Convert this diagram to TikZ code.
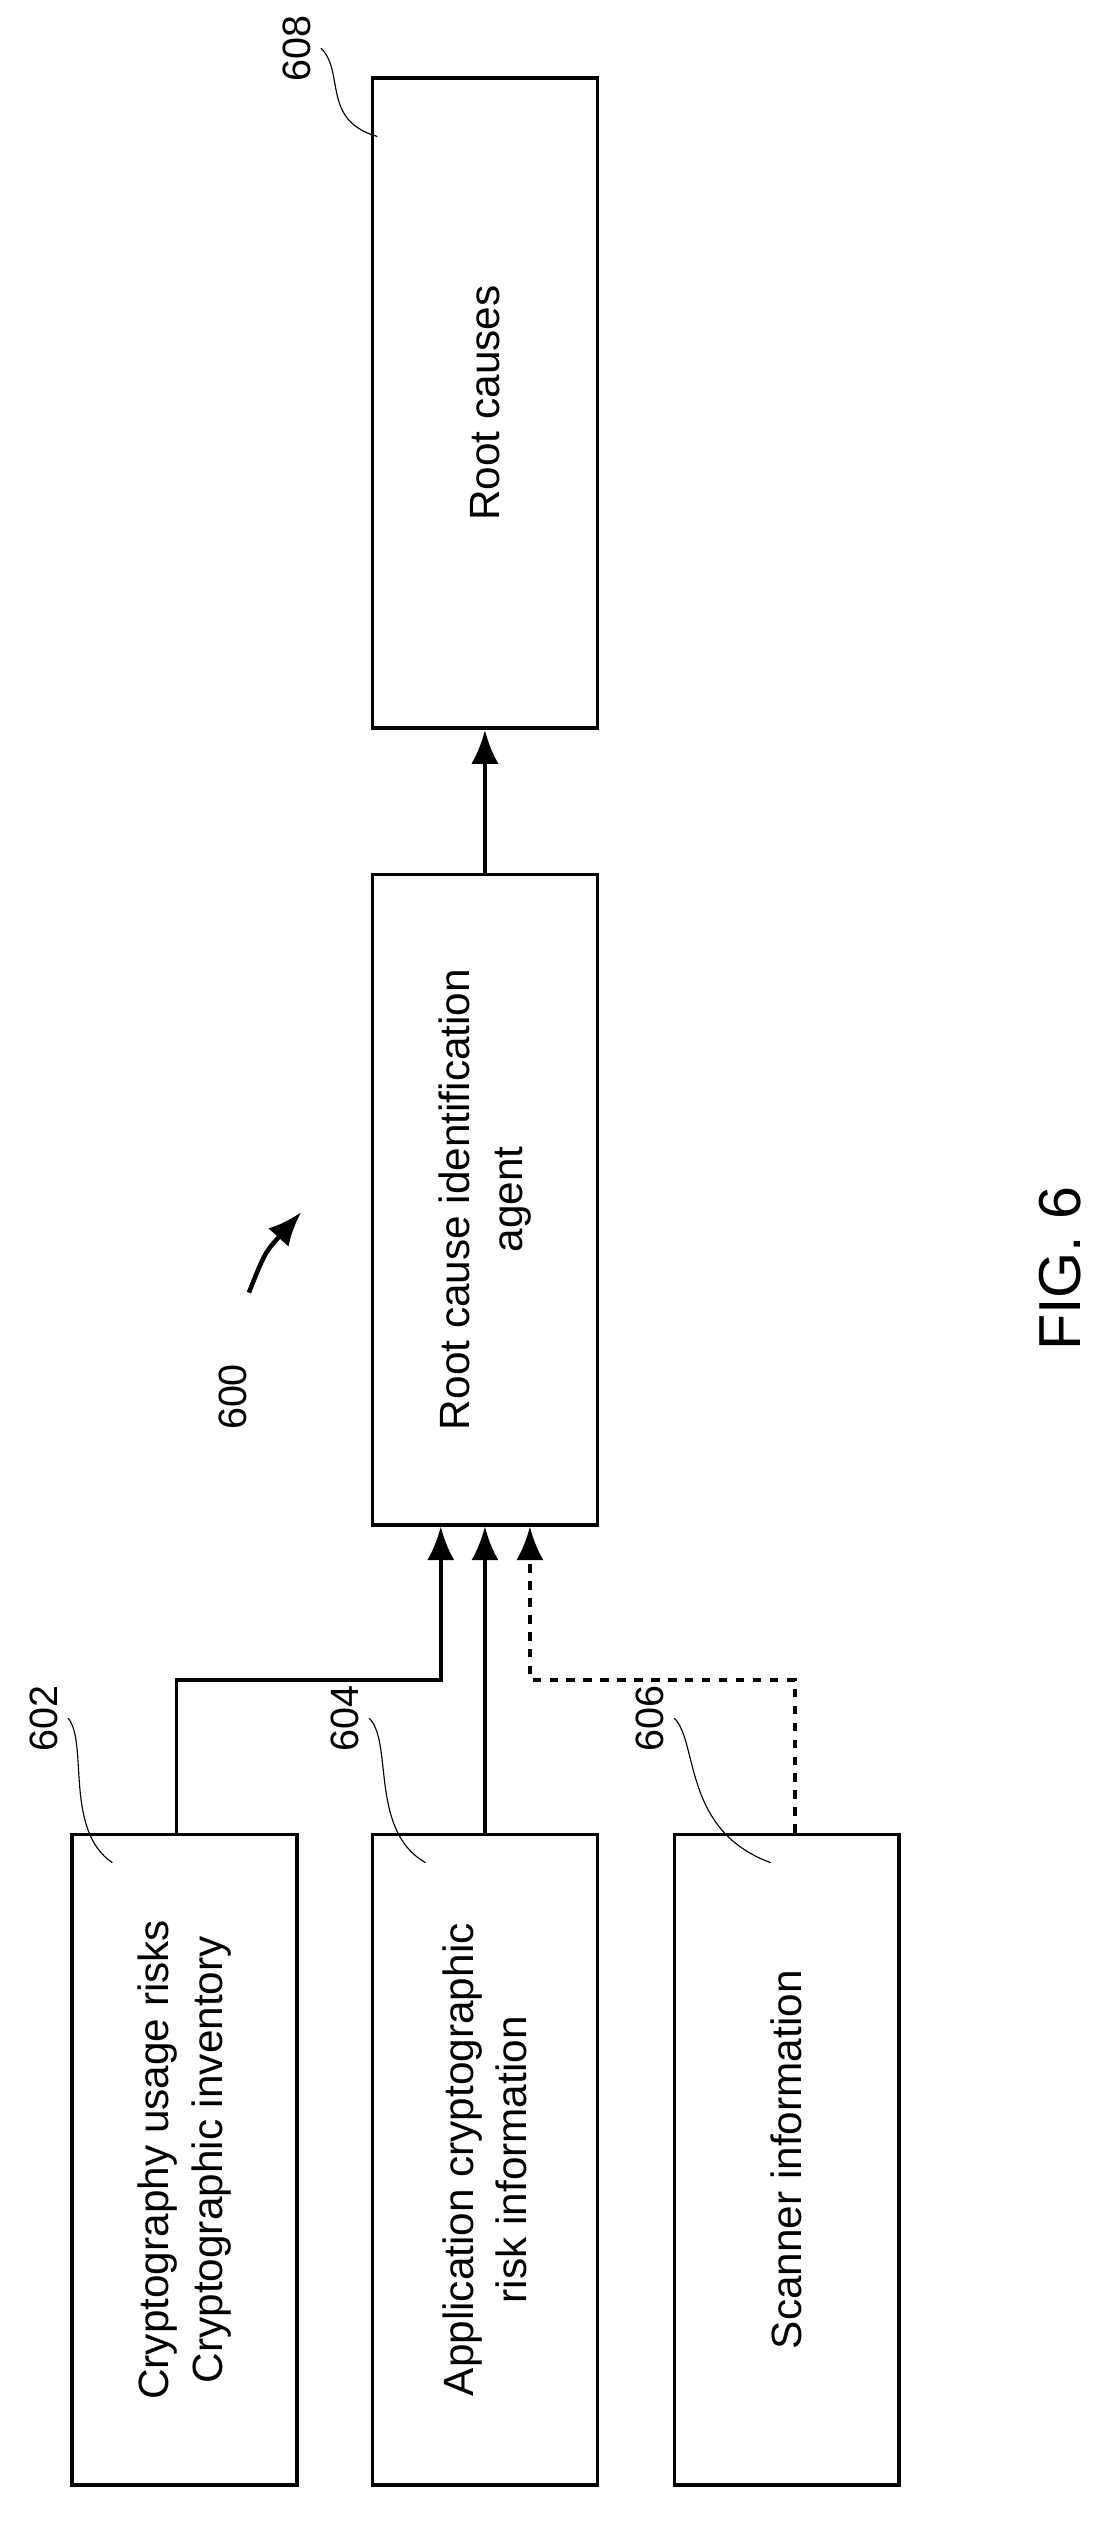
\documentclass[tikz,border=0pt]{standalone}
\usepackage{fontspec}
\setmainfont{Liberation Sans}
\usetikzlibrary{arrows.meta}
\begin{document}
\begin{tikzpicture}

\tikzset{box/.style = {shape=rectangle,draw,line width=1.3pt,rotate=90,minimum width=8.1cm,minimum height=2.8cm,align=center,font=\fontsize{15}{19}\selectfont}}
\tikzset{edge/.style = {->,> = {Latex[length=0.42cm,width=0.34cm]},line width=1.3pt}}
\tikzset{ref/.style = {rotate=90,font=\fontsize{14}{16}\selectfont}}
\useasboundingbox (0,0) rectangle (13.8,-31.4);
%boxes
\node[box] (causes) at (6.04,-5.02) {Root causes};
\node[box] (agent) at (6.04,-14.94) {Root cause identification\\agent};
\node[box] (crypto) at (2.3,-26.9) {Cryptography usage risks\\Cryptographic inventory};
\node[box] (apprisk) at (6.04,-26.9) {Application cryptographic\\risk information};
\node[box] (scanner) at (9.8,-26.9) {Scanner information};
%edges
\draw [edge] (agent) -- (causes);
\draw [edge] ([xshift=-0.1cm]crypto.east) -- ++(0,1.9) -| ([xshift=-0.55cm]agent.west);
\draw [edge] (apprisk) -- (agent);
\draw [edge,dashed] ([xshift=0.1cm]scanner.east) -- ++(0,1.9) -| ([xshift=0.56cm]agent.west);
%reference numerals
\node[ref] (n608) at (3.7,-0.6) {608};
\draw (n608.south) .. controls (4.3,-0.9) and (4.0,-1.5) .. (4.7,-1.7);
\node[ref] (n602) at (0.55,-21.4) {602};
\draw (n602.south) .. controls (1.1,-21.7) and (0.8,-22.8) .. (1.4,-23.2);
\node[ref] (n604) at (4.3,-21.4) {604};
\draw (n604.south) .. controls (4.9,-21.7) and (4.6,-22.8) .. (5.3,-23.2);
\node[ref] (n606) at (8.1,-21.4) {606};
\draw (n606.south) .. controls (8.7,-21.7) and (8.5,-22.8) .. (9.6,-23.2);
\node[ref] (n600) at (2.9,-17.4) {600};
\draw [edge,line width=1.6pt] (3.1,-16.1) .. controls (3.3,-15.6) .. (3.75,-15.1);
\node[rotate=90,font=\fontsize{21}{25}\selectfont] (fig) at (13.2,-15.8) {FIG. 6};

\end{tikzpicture}
\end{document}
